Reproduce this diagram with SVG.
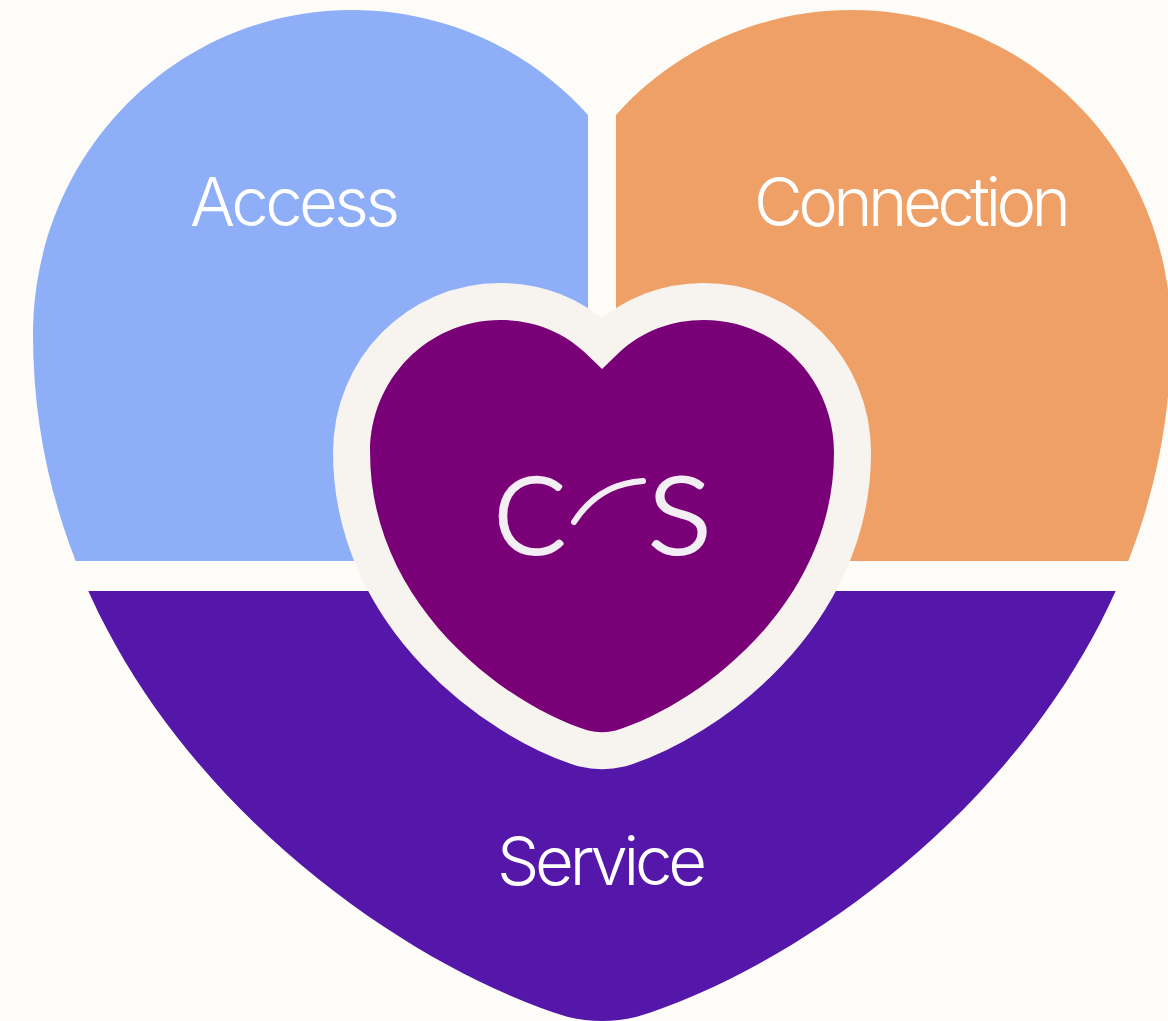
<svg xmlns="http://www.w3.org/2000/svg" width="1168" height="1021" viewBox="0 0 1168 1021">
<style>
.lbl{font-family:Inter,"Liberation Sans",sans-serif;font-weight:300;font-size:67px;fill:#fff}
.mono{font-family:Lato,"Liberation Sans",sans-serif;font-weight:300;font-size:106px;fill:#f3eef4;stroke:#f3eef4;stroke-width:3;stroke-linejoin:round}
</style>
<defs>
<clipPath id="heartClip"><path d="M602,130 L588,115 C530,50 445,10 352,10 C175,10 33,155 33,335 C33,715 375,958 568,1017 Q602,1025 636,1017 C829,958 1171,715 1171,335 C1171,155 1029,10 852,10 C759,10 674,50 616,115 Z"/></clipPath>
</defs>
<rect width="1168" height="1021" fill="#fdfcf8"/>
<g id="access">
<rect x="0" y="0" width="588" height="561" fill="#8eaef7" clip-path="url(#heartClip)"/>
<text class="lbl" x="190" y="226" textLength="210" lengthAdjust="spacing">Access</text>
</g>
<g id="connection">
<rect x="616" y="0" width="560" height="561" fill="#efa067" clip-path="url(#heartClip)"/>
<text class="lbl" x="754" y="226" textLength="317" lengthAdjust="spacing">Connection</text>
</g>
<g id="service">
<rect x="0" y="591" width="1168" height="430" fill="#5517a9" clip-path="url(#heartClip)"/>
<text class="lbl" x="497" y="885" textLength="210" lengthAdjust="spacing">Service</text>
</g>
<g id="center">
<path transform="translate(356.6 315.92) scale(.4077)" fill="#7a0077" stroke="#f7f4f0" stroke-width="181.5" paint-order="stroke" stroke-linejoin="miter" stroke-miterlimit="4" d="M602,130 L560,90 C505,38 432,10 352,10 C175,10 33,155 33,335 C33,715 375,958 568,1017 Q602,1025 636,1017 C829,958 1171,715 1171,335 C1171,155 1029,10 852,10 C772,10 699,38 644,90 Z"/>
<text class="mono" x="494" y="554">C</text>
<text class="mono" transform="translate(648 554) scale(1.12 1)">S</text>
<path fill="none" stroke="#f3eef4" stroke-width="6" stroke-linecap="round" d="M574,522 C590,497 612,483 643,481"/>
</g>
</svg>
